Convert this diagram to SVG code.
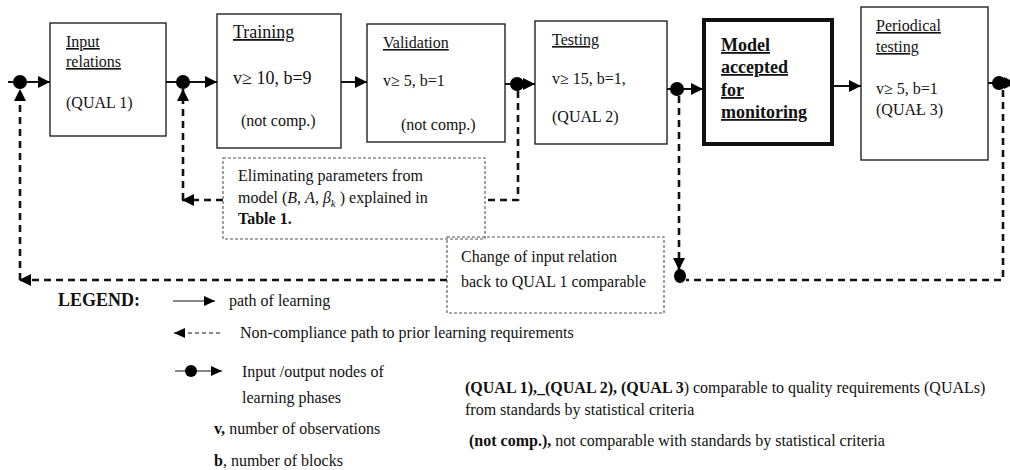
<svg xmlns="http://www.w3.org/2000/svg" width="1010" height="470" viewBox="0 0 1010 470">
<style>
text{font-family:"Liberation Serif","Times New Roman",serif;font-size:16px;fill:#111}
.t{text-decoration:underline}
.b{font-weight:bold}
.box{fill:#fff;stroke:#222;stroke-width:1.4}
.thick{fill:#fff;stroke:#111;stroke-width:4}
.dbox{fill:none;stroke:#555;stroke-width:1.1;stroke-dasharray:3 2}
.solid{fill:none;stroke:#111;stroke-width:2}
.dash{fill:none;stroke:#111;stroke-width:2.6;stroke-dasharray:7 5}
.thin{fill:none;stroke:#111;stroke-width:1}
.thind{fill:none;stroke:#111;stroke-width:1;stroke-dasharray:4 3}
.dot{fill:#000}
</style>
<defs>
<marker id="ah" markerUnits="userSpaceOnUse" markerWidth="13" markerHeight="12" refX="12" refY="6" orient="auto">
<path d="M0,0 L12,6 L0,12 Z" fill="#000"/>
</marker>
<marker id="ahs" markerUnits="userSpaceOnUse" markerWidth="12" markerHeight="10" refX="11" refY="5" orient="auto">
<path d="M0,0 L11,5 L0,10 Z" fill="#000"/>
</marker>
</defs>

<g id="input-relations">
<rect class="box" x="50" y="23" width="116" height="113"/>
<text x="66" y="47" class="t">Input</text>
<text x="66" y="67" class="t">relations</text>
<text x="66" y="108">(QUAL 1)</text>
</g>
<g id="training">
<rect class="box" x="217" y="14" width="124" height="134"/>
<text x="233" y="38" class="t" style="font-size:18px">Training</text>
<text x="233" y="84" style="font-size:18px">v≥ 10, b=9</text>
<text x="241" y="126">(not comp.)</text>
</g>
<g id="validation">
<rect class="box" x="367" y="24" width="138" height="118"/>
<text x="383" y="48" class="t">Validation</text>
<text x="383" y="86">v≥ 5, b=1</text>
<text x="401" y="130">(not comp.)</text>
</g>
<g id="testing">
<rect class="box" x="535" y="21" width="132" height="123"/>
<text x="552" y="45" class="t">Testing</text>
<text x="552" y="84">v≥ 15, b=1,</text>
<text x="552" y="122">(QUAL 2)</text>
</g>
<g id="model-accepted">
<rect class="thick" x="704" y="20" width="128" height="124"/>
<text x="721" y="51" class="t b" style="font-size:18px">Model</text>
<text x="721" y="73" class="t b" style="font-size:18px">accepted</text>
<text x="721" y="96" class="t b" style="font-size:18px">for</text>
<text x="721" y="118" class="t b" style="font-size:18px">monitoring</text>
</g>
<g id="periodical-testing">
<rect class="box" x="861" y="7" width="127" height="153"/>
<text x="876" y="31" class="t">Periodical</text>
<text x="876" y="52" class="t">testing</text>
<text x="876" y="94">v≥ 5, b=1</text>
<text x="876" y="115">(QUAŁ 3)</text>
</g>
<g id="eliminating-note">
<rect class="dbox" x="223" y="158" width="262" height="81"/>
<text x="238" y="181">Eliminating parameters from</text>
<text x="238" y="203">model (<tspan font-style="italic">B</tspan>, <tspan font-style="italic">A</tspan>, <tspan font-style="italic">β</tspan><tspan font-style="italic" font-size="11" dy="4">k</tspan><tspan dy="-4"> ) explained in</tspan></text>
<text x="238" y="224" class="b">Table 1.</text>
</g>
<g id="change-note">
<rect class="dbox" x="447" y="237" width="217" height="76"/>
<text x="461" y="262">Change of input relation</text>
<text x="461" y="287">back to QUAL 1 comparable</text>
</g>

<g id="connectors">
<path class="solid" d="M8,82 H50" marker-end="url(#ah)"/>
<path class="solid" d="M166,82 H217" marker-end="url(#ah)"/>
<path class="solid" d="M341,82 H367" marker-end="url(#ah)"/>
<path class="solid" d="M505,84 H535" marker-end="url(#ah)"/>
<path class="solid" d="M667,89 H703" marker-end="url(#ah)"/>
<path class="solid" d="M832,86 H861" marker-end="url(#ah)"/>
<path class="solid" d="M988,83 H1016" marker-end="url(#ah)"/>
<path class="dash" d="M20,280 V89" marker-end="url(#ah)"/>
<path class="dash" d="M447,280 H19" marker-end="url(#ah)"/>
<path class="dash" d="M518,91 V200 H485"/>
<path class="dash" d="M223,200 H182" marker-end="url(#ah)"/>
<path class="dash" d="M183,200 V89" marker-end="url(#ah)"/>
<path class="dash" d="M679,96 V270" marker-end="url(#ah)"/>
<path class="dash" d="M1003,90 V280 H686"/>
<ellipse class="dot" cx="20" cy="82" rx="7" ry="7"/>
<ellipse class="dot" cx="183" cy="82" rx="7" ry="7"/>
<ellipse class="dot" cx="517" cy="84" rx="7" ry="7"/>
<ellipse class="dot" cx="677" cy="89" rx="7" ry="7"/>
<ellipse class="dot" cx="999" cy="83" rx="7" ry="7"/>
<ellipse class="dot" cx="680" cy="276" rx="6" ry="7"/>
</g>

<g id="legend">
<text x="58" y="306" class="b" style="font-size:18px">LEGEND:</text>
<path class="thin" d="M173,301 H215" marker-end="url(#ahs)"/>
<text x="229" y="306">path of learning</text>
<path class="thind" d="M220,333 H174" marker-end="url(#ahs)"/>
<text x="240" y="338">Non-compliance path to prior learning requirements</text>
<path class="thin" d="M175,371 H222" marker-end="url(#ahs)"/>
<circle class="dot" cx="191" cy="371" r="6"/>
<text x="242" y="377">Input /output nodes of</text>
<text x="242" y="403">learning phases</text>
<text x="214" y="434"><tspan class="b">v,</tspan> number of observations</text>
<text x="214" y="466"><tspan class="b">b</tspan>, number of blocks</text>
<text x="465" y="393"><tspan class="b">(QUAL 1),_(QUAL 2), (QUAL 3</tspan>) comparable to quality requirements (QUALs)</text>
<text x="465" y="415">from standards by statistical criteria</text>
<text x="469" y="446"><tspan class="b">(not comp.),</tspan> not comparable with standards by statistical criteria</text>
</g>
</svg>
